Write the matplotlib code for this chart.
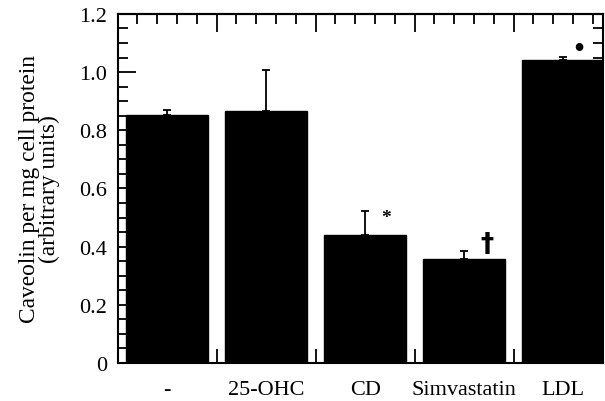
import matplotlib
matplotlib.use("Agg")
import matplotlib.pyplot as plt
import numpy as np
from matplotlib.ticker import MultipleLocator, FixedLocator

plt.rcParams['font.family'] = ['Liberation Serif', 'DejaVu Serif']

categories = ["-", "25-OHC", "CD", "Simvastatin", "LDL"]
values = [0.851, 0.866, 0.439, 0.356, 1.041]
errors = [0.017, 0.141, 0.085, 0.029, 0.012]
marks = ["", "", "*", "\u2020", "\u2022"]
yticks = [0, 0.2, 0.4, 0.6, 0.8, 1.0, 1.2]
ytick_labels = ["0", "0.2", "0.4", "0.6", "0.8", "1.0", "1.2"]

fig = plt.figure(figsize=(6.05, 4.02), dpi=100)
ax = fig.add_axes([0.195, 0.0945, 0.802, 0.8685])

x = np.arange(len(categories))
ax.bar(x, values, width=0.83, color="black", edgecolor="black", zorder=2)
ax.errorbar(x, values, yerr=[np.zeros(len(errors)), errors], fmt="none",
            ecolor="black", elinewidth=1.3, capsize=3.2, capthick=1.3, zorder=3)

ax.set_xlim(-0.495, 4.404)
ax.set_ylim(0, 1.2)

# Significance marks
ax.text(2.21, 0.50, marks[2], ha="center", va="center", fontsize=14, fontweight="bold")
ax.text(3.23, 0.41, marks[3], ha="center", va="center", fontsize=19,
        family=["DejaVu Sans"], fontweight="bold")
ax.text(4.16, 1.078, marks[4], ha="center", va="center", fontsize=23)

for s in ax.spines.values():
    s.set_linewidth(1.5)

ax.set_xticks(x)
ax.set_xticklabels(categories, fontsize=16)
ax.tick_params(axis="x", which="major", length=0, pad=12)
ax.xaxis.set_minor_locator(FixedLocator([0.5, 1.5, 2.5, 3.5]))
ax.tick_params(axis="x", which="minor", direction="in", length=10, width=1.3, bottom=True, top=False)

ax.set_yticks(yticks)
ax.set_yticklabels(ytick_labels, fontsize=16)
ax.yaxis.set_minor_locator(MultipleLocator(0.05))
ax.tick_params(axis="y", which="major", direction="in", length=13, width=1.3, right=True, pad=8)
ax.tick_params(axis="y", which="minor", direction="in", length=7, width=1.3, right=True)

sec = ax.secondary_xaxis("top")
sec.xaxis.set_major_locator(FixedLocator([0.5, 1.5, 2.5, 3.5]))
minor_top = [round(v, 2) for v in np.arange(-0.3, 4.4, 0.2)]
minor_top = [v for v in minor_top if min(abs(v - b) for b in [0.5, 1.5, 2.5, 3.5]) > 0.05]
sec.xaxis.set_minor_locator(FixedLocator(minor_top))
sec.tick_params(which="major", direction="in", length=13, width=1.3, labeltop=False)
sec.tick_params(which="minor", direction="in", length=7, width=1.3)
sec.spines["top"].set_linewidth(1.5)

ax.set_ylabel("Caveolin per mg cell protein\n(arbitrary units)", fontsize=16.8, linespacing=0.92, labelpad=14)

fig.savefig("out.png", dpi=100)
